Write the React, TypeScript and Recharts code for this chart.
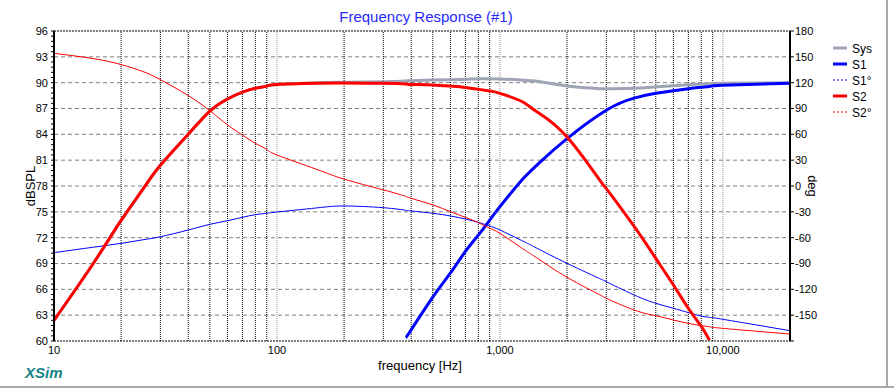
/* XSim style frequency response: SPL magnitude (left) and phase (right) on a log frequency axis. */

import { Line, LineChart, ReferenceLine, XAxis, YAxis } from "recharts";

const FREQ = [
  10, 15, 20, 25, 30, 40, 50, 60, 70, 80, 90, 100, 150, 200, 300, 378, 400, 500, 600, 700, 800, 900, 1000,
  1235, 1363, 1510, 2000, 2800, 3000, 4000, 5000, 6000, 7000, 8000, 8700, 10000, 20000,
];

const SYS = [
  62.4, 69.0, 74.0, 77.6, 80.4, 84.0, 86.7, 88.1, 88.9, 89.35, 89.6, 89.8, 90.0, 90.05, 90.11, 90.2, 90.23,
  90.31, 90.35, 90.39, 90.45, 90.46, 90.43, 90.32, 90.23, 90.11, 89.61, 89.3, 89.3, 89.34, 89.53, 89.65, 89.76,
  89.84, 89.88, 89.93, 90.0,
];

const S1 = [
  null, null, null, null, null, null, null, null, null, null, null, null, null, null, null, 60.4, 61.3, 65.1,
  67.9, 70.4, 72.3, 74.05, 75.6, 78.5, 79.65, 80.75, 83.5, null, 86.8, 88.2, 88.76, 89.07, 89.3, 89.46, 89.55,
  89.7, 89.93,
];

const S1_PHASE = [
  -77.4, -71.1, -66.6, -62.5, -58.9, -51.1, -44.5, -40.3, -36.4, -33.3, -31.7, -30.2, -25.5, -23.2, -25.2, -28.2,
  -29, -31.7, -34.8, -38.3, -42.2, -46.5, -51.1, -62.5, -68, -74, -89.8, -107.5, -111.1, -126.6, -136.2, -142,
  -147, -151, -152.5, -154.8, -168,
];

const S2 = [
  62.4, 69.0, 74.0, 77.6, 80.4, 84.0, 86.7, 88.1, 88.9, 89.35, 89.6, 89.8, 89.93, 89.95, 89.93, 89.85, 89.8,
  89.73, 89.6, 89.45, 89.23, 89.03, 88.76, 87.9, 87.2, 86.4, 83.7, 78.7, 77.7, 73.3, 69.6, 66.5, 63.8, 61.7,
  60.1, null, null,
];

const S2_PHASE = [
  154, 148, 141, 133, 123.5, 105, 87.5, 71, 59.2, 49.6, 42.6, 36, 19.5, 8, -4.5, -12, -14.3, -22, -29.8, -36.4,
  -42.6, -49, -55, -71, -78.3, -85.8, -106, -126.3, -130.4, -144, -150.6, -155.6, -159.5, -162.2, -163.5,
  -165.3, -171.9,
];

const FREQ_TICKS = [10, 100, 1000, 10000];
const DB_TICKS = [60, 63, 66, 69, 72, 75, 78, 81, 84, 87, 90, 93, 96];
const DEG_TICKS = [-180, -150, -120, -90, -60, -30, 0, 30, 60, 90, 120, 150, 180];
const MINOR_GRID = [
  20, 30, 40, 50, 60, 70, 80, 90, 200, 300, 400, 500, 600, 700, 800, 900, 2000, 3000, 4000, 5000, 6000, 7000,
  8000, 9000,
];
const DECADE_GRID = [100, 1000, 10000];

const LEGEND = [
  { name: "Sys", color: "#9ea3b6", width: 3, dash: undefined },
  { name: "S1", color: "#0000ff", width: 3, dash: undefined },
  { name: "S1°", color: "#0000ff", width: 1, dash: "2 2" },
  { name: "S2", color: "#ff0000", width: 3, dash: undefined },
  { name: "S2°", color: "#ff0000", width: 1, dash: "2 2" },
];

const data = FREQ.map((f, i) => ({
  f,
  sys: SYS[i],
  s1: S1[i],
  s1p: S1_PHASE[i],
  s2: S2[i],
  s2p: S2_PHASE[i],
}));

// 4 minor ticks between each labelled dB tick
const dbTicksAll: number[] = [];
DB_TICKS.forEach((t, i) => {
  dbTicksAll.push(t);
  if (i < DB_TICKS.length - 1) for (let k = 1; k < 5; k++) dbTicksAll.push(+(t + k * 0.6).toFixed(1));
});

const FONT = '"Liberation Sans", Arial, sans-serif';

function DbTick(props: any) {
  const { x, y, payload } = props;
  if (!DB_TICKS.includes(payload.value)) return <g />;
  return (
    <text x={x} y={y} dy="0.355em" textAnchor="end" fontSize={11} fontFamily={FONT} fill="#000">
      {payload.value}
    </text>
  );
}

export default function App() {
  return (
    <div style={{ position: "absolute", left: 0, top: 0, width: 894, height: 389, background: "#fff" }}>
      <LineChart
        width={894}
        height={389}
        data={data}
        margin={{ top: 31, right: 60, left: 10, bottom: 18 }}
        style={{ fontFamily: FONT }}
      >
        <XAxis
          dataKey="f"
          type="number"
          scale="log"
          domain={[10, 20000]}
          ticks={FREQ_TICKS}
          allowDataOverflow
          height={30}
          tickLine={false}
          tickSize={5}
          tickMargin={0}
          axisLine={{ stroke: "#000", strokeDasharray: "2 1" }}
          tick={{ fontSize: 11, fill: "#000" }}
          tickFormatter={(v: number) => v.toLocaleString("en-US")}
        />
        <YAxis
          yAxisId="db"
          domain={[60, 96]}
          ticks={dbTicksAll}
          interval={0}
          allowDataOverflow
          width={44}
          tickSize={3}
          tickMargin={3}
          axisLine={{ stroke: "#000", strokeWidth: 2 }}
          tickLine={{ stroke: "#000" }}
          tick={<DbTick />}
        />
        <YAxis
          yAxisId="deg"
          orientation="right"
          domain={[-180, 180]}
          ticks={DEG_TICKS}
          interval={0}
          allowDataOverflow
          width={44}
          tickSize={4}
          tickMargin={1}
          axisLine={{ stroke: "#000", strokeWidth: 2 }}
          tickLine={{ stroke: "#000" }}
          tick={{ fontSize: 11, fill: "#000" }}
          tickFormatter={(v: number) => (v === -180 ? "" : String(v))}
        />

        {DB_TICKS.slice(1, -1).map((v) => (
          <ReferenceLine key={"h" + v} yAxisId="db" y={v} stroke="#808080" strokeDasharray="4 3" />
        ))}
        <ReferenceLine yAxisId="db" y={96} stroke="#000" strokeDasharray="2 1" />
        {MINOR_GRID.map((f) => (
          <ReferenceLine key={"v" + f} yAxisId="db" x={f} stroke="#000" strokeDasharray="1 1" />
        ))}
        {DECADE_GRID.map((f) => (
          <ReferenceLine key={"d" + f} yAxisId="db" x={f} stroke="#909090" strokeDasharray="1 1" />
        ))}

        <Line yAxisId="db" type="natural" dataKey="sys" stroke="#9ea3b6" strokeWidth={3} dot={false} connectNulls isAnimationActive={false} />
        <Line yAxisId="db" type="natural" dataKey="s1" stroke="#0000ff" strokeWidth={3} dot={false} connectNulls isAnimationActive={false} />
        <Line yAxisId="deg" type="natural" dataKey="s1p" stroke="#0000ff" strokeWidth={1} dot={false} connectNulls isAnimationActive={false} />
        <Line yAxisId="db" type="natural" dataKey="s2" stroke="#ff0000" strokeWidth={3} dot={false} connectNulls isAnimationActive={false} />
        <Line yAxisId="deg" type="natural" dataKey="s2p" stroke="#ff0000" strokeWidth={1} dot={false} connectNulls isAnimationActive={false} />
      </LineChart>

      <svg
        width={894}
        height={389}
        style={{ position: "absolute", left: 0, top: 0, pointerEvents: "none", fontFamily: FONT }}
      >
        <text x={426} y={22} textAnchor="middle" fontSize={15} fill="#2828ff">
          Frequency Response (#1)
        </text>
        <text x={420} y={370} textAnchor="middle" fontSize={13} fill="#000">
          frequency [Hz]
        </text>
        <text x={35} y={186} textAnchor="middle" fontSize={13} fill="#000" transform="rotate(-90 35 186)">
          dBSPL
        </text>
        <text x={808} y={186} textAnchor="middle" fontSize={13} fill="#000" transform="rotate(90 808 186)">
          deg
        </text>
        <text x={25} y={378} fontSize={15} fontWeight="bold" fontStyle="italic" fill="#168585">
          XSim
        </text>
        {LEGEND.map((item, i) => (
          <g key={item.name}>
            <line
              x1={833}
              x2={847}
              y1={48 + i * 16}
              y2={48 + i * 16}
              stroke={item.color}
              strokeWidth={item.width}
              strokeDasharray={item.dash}
            />
            <text x={852} y={52.5 + i * 16} fontSize={12} fill="#000">
              {item.name}
            </text>
          </g>
        ))}
        <line x1={887} x2={887} y1={0} y2={387} stroke="#a8a8a8" strokeWidth={2} />
        <line x1={0} x2={894} y1={387} y2={387} stroke="#a8a8a8" strokeWidth={2} />
      </svg>
    </div>
  );
}
